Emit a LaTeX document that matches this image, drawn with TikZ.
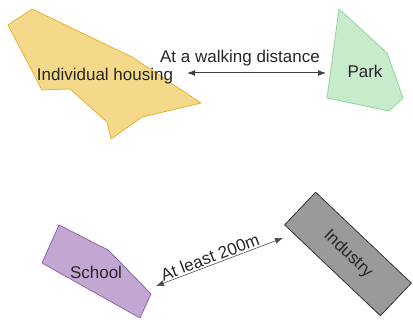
\documentclass[tikz,border=0pt]{standalone}
\usepackage{fontspec}
\setmainfont{Liberation Sans}
\usetikzlibrary{arrows.meta}

\definecolor{housing_fill}{HTML}{F4D98B}
\definecolor{housing_line}{HTML}{E6B22E}
\definecolor{park_fill}{HTML}{C8EBCB}
\definecolor{park_line}{HTML}{8FD49E}
\definecolor{school_fill}{HTML}{C2A7D3}
\definecolor{school_line}{HTML}{8F66AA}
\definecolor{industry_fill}{HTML}{9A9A9A}
\definecolor{industry_line}{HTML}{333333}

\begin{document}
\begin{tikzpicture}[
		x=1pt, y=-1pt,
		every node/.style={font=\fontsize{17}{20}\selectfont, text=black!85, inner sep=0pt},
		zone/.style={line width=0.8pt, line join=round},
		link/.style={<->, >={Latex[length=8pt, width=6pt]}, line width=1pt, draw=black!75}
	]
  \useasboundingbox (0, 0) rectangle (413, 320);
  % areas
  \draw [zone, fill=housing_fill, draw=housing_line] (8, 25) -- (32, 9) -- (132, 57) -- (201, 103)
    -- (142, 117) -- (111, 139) -- (107, 122) -- (70, 89) -- (42, 90) -- cycle;
  \draw [zone, fill=park_fill, draw=park_line] (339, 9) -- (387, 53) -- (403, 98) -- (389, 111)
    -- (327, 98) -- cycle;
  \draw [zone, fill=school_fill, draw=school_line] (59, 225) -- (108, 250) -- (120, 262)
    -- (151, 294) -- (140, 318) -- (42, 263) -- cycle;
  \node (industry) [zone, fill=industry_fill, draw=industry_line, rotate=-43.5,
    minimum width=132pt, minimum height=45pt] at (348, 254) {Industry};
  % names
  \node (housing) at (105, 76) {Individual housing};
  \node (park) at (365, 71) {Park};
  \node (school) at (96, 272) {School};
  % distances
  \coordinate (walk_a) at (187, 73);
  \coordinate (walk_b) at (326, 73);
  \coordinate (far_a) at (156, 286);
  \coordinate (far_b) at (283, 238);
  \draw [link] (walk_a) -- (walk_b);
  \draw [link, line width=0.6pt, draw=black!70] (far_a) -- (far_b);
  \node (walk_label) at (240, 58) {At a walking distance};
  \node (far_label) [rotate=20.7] at (210, 257) {At least 200m};
\end{tikzpicture}
\end{document}
